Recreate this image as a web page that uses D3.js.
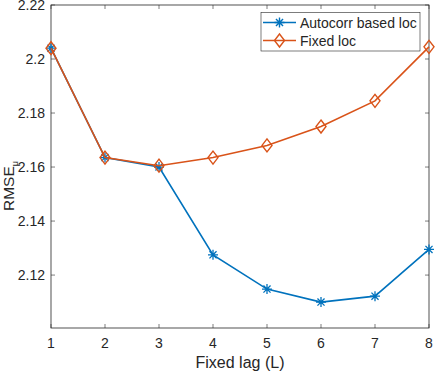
<!DOCTYPE html>
<html>
<head>
<meta charset="utf-8">
<script src="https://cdn.jsdelivr.net/npm/d3@7"></script>
<style>
  body { margin: 0; background: #fff; }
  text { font-family: "Liberation Sans", Arial, sans-serif; fill: #262626; }
</style>
</head>
<body>
<div id="viz"></div>
<script>
const lags = [1, 2, 3, 4, 5, 6, 7, 8];
const autocorrLoc = [2.204, 2.1635, 2.160, 2.1275, 2.1148, 2.1100, 2.1122, 2.1295];
const fixedLoc = [2.204, 2.1635, 2.1605, 2.1635, 2.168, 2.175, 2.1845, 2.2045];
const yTicks = [2.12, 2.14, 2.16, 2.18, 2.2, 2.22];
const seriesNames = ["Autocorr based loc", "Fixed loc"];

const width = 436, height = 374;
const m = { left: 51, right: 7, top: 5, bottom: 46 };
const axisColor = "#262626";
const blue = "#0072BD", orange = "#D95319";

const svg = d3.select("#viz").append("svg")
  .attr("width", width).attr("height", height);

const x = d3.scaleLinear().domain([1, 8]).range([m.left, width - m.right]);
const y = d3.scaleLinear().domain([2.1004, 2.22]).range([height - m.bottom, m.top]);

const x0 = x.range()[0], x1 = x.range()[1];
const y0 = y.range()[0], y1 = y.range()[1];
const tickLen = 4;

// ticks (inside, on all four sides)
const g = svg.append("g");
lags.forEach(v => {
  g.append("line").attr("x1", x(v)).attr("x2", x(v)).attr("y1", y0).attr("y2", y0 - tickLen)
    .attr("stroke", axisColor).attr("stroke-width", 0.6);
  g.append("line").attr("x1", x(v)).attr("x2", x(v)).attr("y1", y1).attr("y2", y1 + tickLen)
    .attr("stroke", axisColor).attr("stroke-width", 0.6);
  g.append("text").attr("x", x(v)).attr("y", y0 + 20).attr("text-anchor", "middle")
    .attr("font-size", 14).text(v);
});
yTicks.forEach(v => {
  g.append("line").attr("x1", x0).attr("x2", x0 + tickLen).attr("y1", y(v)).attr("y2", y(v))
    .attr("stroke", axisColor).attr("stroke-width", 0.6);
  g.append("line").attr("x1", x1).attr("x2", x1 - tickLen).attr("y1", y(v)).attr("y2", y(v))
    .attr("stroke", axisColor).attr("stroke-width", 0.6);
  g.append("text").attr("x", x0 - 6).attr("y", y(v) + 5).attr("text-anchor", "end")
    .attr("font-size", 14).text(d3.format("~g")(v));
});

// box
svg.append("rect").attr("x", x0).attr("y", y1).attr("width", x1 - x0).attr("height", y0 - y1)
  .attr("fill", "none").attr("stroke", axisColor).attr("stroke-width", 0.8);

// axis labels
svg.append("text").attr("x", (x0 + x1) / 2).attr("y", 368).attr("text-anchor", "middle")
  .attr("font-size", 16).text("Fixed lag (L)");
const yl = svg.append("text").attr("transform", "translate(14,186) rotate(-90)")
  .attr("text-anchor", "middle").attr("font-size", 15.5);
yl.append("tspan").text("RMSE");
yl.append("tspan").attr("font-size", 9).attr("dy", 4).text("μ");

const line = d3.line().x((d, i) => x(lags[i])).y(d => y(d));

function asterisk(sel, s) {
  const r = s / 2, d = r * 0.7071;
  const path = `M${-r},0L${r},0M0,${-r}L0,${r}M${-d},${-d}L${d},${d}M${-d},${d}L${d},${-d}`;
  sel.append("path").attr("d", path);
}
function diamond(sel, w, h) {
  sel.append("path").attr("d", `M0,${-h / 2}L${w / 2},0L0,${h / 2}L${-w / 2},0Z`);
}

// series
svg.append("path").datum(autocorrLoc).attr("d", line)
  .attr("fill", "none").attr("stroke", blue).attr("stroke-width", 1.6);
svg.append("g").selectAll("g").data(autocorrLoc).join("g")
  .attr("transform", (d, i) => `translate(${x(lags[i])},${y(d)})`)
  .attr("stroke", blue).attr("stroke-width", 1.3).attr("fill", "none")
  .each(function () { asterisk(d3.select(this), 10); });

svg.append("path").datum(fixedLoc).attr("d", line)
  .attr("fill", "none").attr("stroke", orange).attr("stroke-width", 1.6);
svg.append("g").selectAll("g").data(fixedLoc).join("g")
  .attr("transform", (d, i) => `translate(${x(lags[i])},${y(d)})`)
  .attr("stroke", orange).attr("stroke-width", 1.4).attr("fill", "none")
  .each(function () { diamond(d3.select(this), 10, 13); });

// legend
const lg = svg.append("g");
lg.append("rect").attr("x", 261).attr("y", 12.5).attr("width", 159).attr("height", 38.5)
  .attr("fill", "#fff").attr("stroke", axisColor).attr("stroke-width", 0.6);
const rows = [22.5, 40.5];
[blue, orange].forEach((c, i) => {
  lg.append("line").attr("x1", 263).attr("x2", 296).attr("y1", rows[i]).attr("y2", rows[i])
    .attr("stroke", c).attr("stroke-width", 1.6);
  const mk = lg.append("g").attr("transform", `translate(279.5,${rows[i]})`)
    .attr("stroke", c).attr("fill", "none").attr("stroke-width", 1.4);
  if (i === 0) asterisk(mk, 10); else diamond(mk, 10, 13);
  lg.append("text").attr("x", 300).attr("y", rows[i] + 5).attr("font-size", 14).text(seriesNames[i]);
});
</script>
</body>
</html>
